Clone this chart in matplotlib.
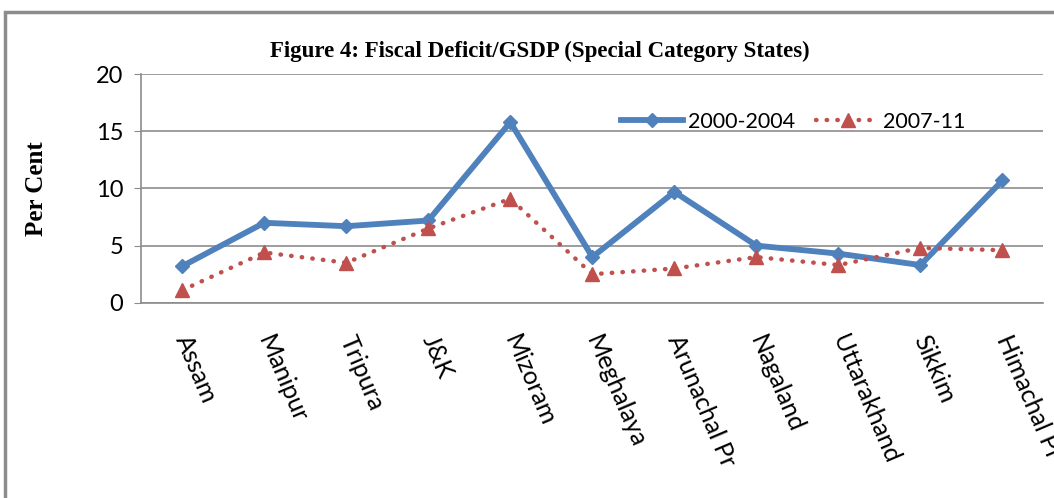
import matplotlib.pyplot as plt
from matplotlib.patches import Rectangle

# data
states = ["Assam", "Manipur", "Tripura", "J&K", "Mizoram", "Meghalaya",
          "Arunachal Pr", "Nagaland", "Uttarakhand", "Sikkim", "Himachal Pr"]
fd_2000_2004 = [3.2, 7.0, 6.7, 7.2, 15.8, 4.0, 9.7, 5.0, 4.3, 3.3, 10.7]
fd_2007_11 = [1.1, 4.4, 3.5, 6.5, 9.1, 2.5, 3.0, 4.0, 3.3, 4.8, 4.6]

blue = '#4F81BD'
red = '#C0504D'
sans = 'Lato'

fig = plt.figure(figsize=(10.54, 4.98), dpi=100)
ax = fig.add_axes([0.134, 0.392, 0.856, 0.459])

# outer chart frame
fig.patches.append(Rectangle((0.005, -0.1), 1.2, 1.075, transform=fig.transFigure,
                             fill=False, edgecolor='#8c8c8c', linewidth=2.5))

x = list(range(len(states)))
ax.plot(x, fd_2000_2004, color=blue, linewidth=4.2, marker='D', markersize=7,
        label='2000-2004')
ax.plot(x, fd_2007_11, color=red, linewidth=3.2, linestyle=(0, (0.1, 2.3)),
        dash_capstyle='round', marker='^', markersize=10, label='2007-11')

ax.set_xlim(-0.5, len(states) - 0.5)
ax.set_ylim(0, 20)
ax.set_yticks([0, 5, 10, 15, 20])
ax.yaxis.grid(True, color='#8c8c8c', linewidth=1.2)
ax.set_axisbelow(True)
for s in ['top', 'right']:
    ax.spines[s].set_visible(False)
ax.spines['left'].set_color('#8c8c8c')
ax.spines['bottom'].set_color('#8c8c8c')
ax.spines['left'].set_linewidth(1.2)
ax.spines['bottom'].set_linewidth(1.2)
ax.tick_params(axis='y', length=5, color='#8c8c8c', labelsize=17, pad=8)
ax.tick_params(axis='x', length=0, pad=24)

ax.set_xticks(x)
ax.set_xticklabels(states, rotation=-67, ha='left', va='center',
                   rotation_mode='anchor', fontsize=18)
for lbl in ax.get_yticklabels() + ax.get_xticklabels():
    lbl.set_fontfamily(sans)

ax.set_ylabel('Per Cent', fontfamily='Liberation Serif', fontweight='bold',
              fontsize=18, labelpad=34)

fig.text(0.512, 0.897, 'Figure 4: Fiscal Deficit/GSDP (Special Category States)',
         ha='center', va='center', fontfamily='Liberation Serif',
         fontweight='bold', fontsize=16.5)

ax.legend(loc='upper right', bbox_to_anchor=(0.935, 0.92), ncol=2, frameon=False,
          handlelength=2.9, columnspacing=1.0, handletextpad=0.2,
          prop={'family': sans, 'size': 15.5})

fig.savefig('out.png', dpi=100)
